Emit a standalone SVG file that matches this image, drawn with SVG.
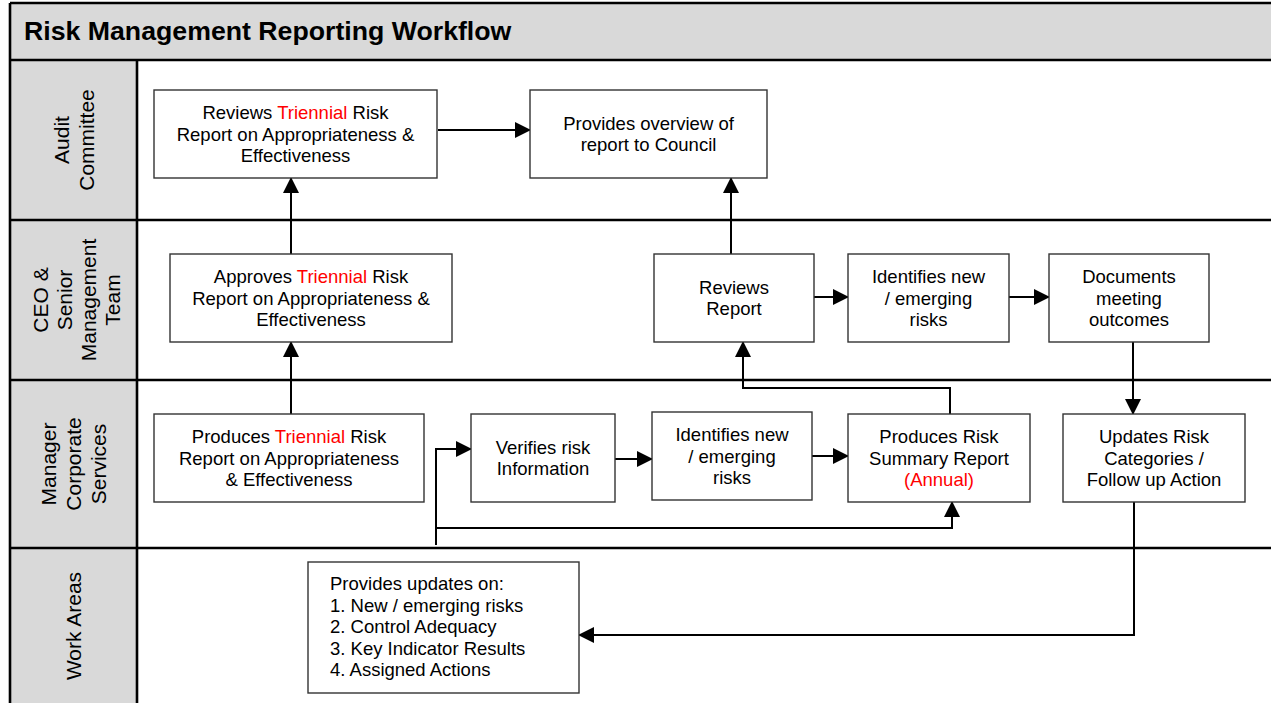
<svg xmlns="http://www.w3.org/2000/svg" width="1271" height="703" viewBox="0 0 1271 703">
  <style>
    .band { fill: #d9d9d9; }
    .frame { stroke: #000; stroke-width: 2.6; fill: none; }
    .box { fill: #fff; stroke: #333; stroke-width: 1.4; }
    .txt { font-family: "Liberation Sans", Arial, sans-serif; font-size: 18.5px; fill: #000; }
    .mid { text-anchor: middle; }
    .red { fill: #ff0000; }
    .lane { font-family: "Liberation Sans", Arial, sans-serif; font-size: 21px; fill: #000; text-anchor: middle; }
    .title { font-family: "Liberation Sans", Arial, sans-serif; font-size: 26.7px; font-weight: bold; fill: #000; }
    .conn { stroke: #000; stroke-width: 2; fill: none; }
    .arrow { marker-end: url(#head); }
  </style>
  <defs>
    <marker id="head" viewBox="0 0 16 16" refX="15" refY="8" markerWidth="16" markerHeight="16" markerUnits="userSpaceOnUse" orient="auto">
      <path d="M0,0 L16,8 L0,16 z" fill="#000"/>
    </marker>
  </defs>

  <!-- background, header band and lane label column -->
  <rect x="0" y="0" width="1271" height="703" fill="#fff"/>
  <rect class="band" x="10" y="3" width="1261" height="57"/>
  <rect class="band" x="10" y="60" width="127" height="643"/>

  <!-- pool frame and lane separators -->
  <g id="frame">
    <line class="frame" x1="10" y1="3" x2="1271" y2="3"/>
    <line class="frame" x1="10" y1="3" x2="10" y2="703"/>
    <line class="frame" x1="10" y1="60" x2="1271" y2="60"/>
    <line class="frame" x1="10" y1="220" x2="1271" y2="220"/>
    <line class="frame" x1="10" y1="380" x2="1271" y2="380"/>
    <line class="frame" x1="10" y1="548" x2="1271" y2="548"/>
    <line class="frame" x1="137" y1="60" x2="137" y2="703"/>
  </g>

  <text class="title" x="24" y="40">Risk Management Reporting Workflow</text>

  <!-- lane labels -->
  <g id="lane-audit" transform="translate(74,140) rotate(-90)">
    <text class="lane" x="0" y="-5.5">Audit</text>
    <text class="lane" x="0" y="19.5">Committee</text>
  </g>
  <g id="lane-ceo" transform="translate(76,300) rotate(-90)">
    <text class="lane" x="0" y="-28">CEO &amp;</text>
    <text class="lane" x="0" y="-4">Senior</text>
    <text class="lane" x="0" y="20">Management</text>
    <text class="lane" x="0" y="44">Team</text>
  </g>
  <g id="lane-manager" transform="translate(74,464) rotate(-90)">
    <text class="lane" x="0" y="-18">Manager</text>
    <text class="lane" x="0" y="7">Corporate</text>
    <text class="lane" x="0" y="32">Services</text>
  </g>
  <g id="lane-work" transform="translate(74,626) rotate(-90)">
    <text class="lane" x="0" y="7">Work Areas</text>
  </g>

  <!-- connectors -->
  <g id="connectors">
    <line class="conn arrow" x1="438" y1="130" x2="530" y2="130"/>
    <line class="conn arrow" x1="291" y1="254" x2="291" y2="178"/>
    <line class="conn arrow" x1="291" y1="414" x2="291" y2="342"/>
    <line class="conn arrow" x1="731" y1="254" x2="731" y2="178"/>
    <line class="conn arrow" x1="814" y1="297" x2="848" y2="297"/>
    <line class="conn arrow" x1="1009" y1="297" x2="1049" y2="297"/>
    <line class="conn arrow" x1="1133" y1="342" x2="1133" y2="414"/>
    <polyline class="conn arrow" points="1134,502 1134,635 579,635"/>
    <polyline class="conn arrow" points="950,414 950,388 743,388 743,342"/>
    <line class="conn arrow" x1="615" y1="459" x2="652" y2="459"/>
    <line class="conn arrow" x1="812" y1="456" x2="848" y2="456"/>
    <polyline class="conn arrow" points="436,545 436,449 471,449"/>
    <polyline class="conn arrow" points="436,528 952,528 952,502"/>
  </g>

  <!-- Audit Committee -->
  <g id="audit-reviews">
    <rect class="box" x="154" y="90" width="283" height="88"/>
    <text class="txt mid" x="295.5" y="119">Reviews <tspan class="red">Triennial</tspan> Risk</text>
    <text class="txt mid" x="295.5" y="140.5">Report on Appropriateness &amp;</text>
    <text class="txt mid" x="295.5" y="162">Effectiveness</text>
  </g>
  <g id="audit-overview">
    <rect class="box" x="530" y="90" width="237" height="88"/>
    <text class="txt mid" x="648.5" y="129.5">Provides overview of</text>
    <text class="txt mid" x="648.5" y="151">report to Council</text>
  </g>

  <!-- CEO & Senior Management Team -->
  <g id="ceo-approves">
    <rect class="box" x="170" y="254" width="282" height="88"/>
    <text class="txt mid" x="311" y="283">Approves <tspan class="red">Triennial</tspan> Risk</text>
    <text class="txt mid" x="311" y="304.5">Report on Appropriateness &amp;</text>
    <text class="txt mid" x="311" y="326">Effectiveness</text>
  </g>
  <g id="ceo-reviews">
    <rect class="box" x="654" y="254" width="160" height="88"/>
    <text class="txt mid" x="734" y="293.5">Reviews</text>
    <text class="txt mid" x="734" y="315">Report</text>
  </g>
  <g id="ceo-identifies">
    <rect class="box" x="848" y="254" width="161" height="88"/>
    <text class="txt mid" x="928.5" y="283">Identifies new</text>
    <text class="txt mid" x="928.5" y="304.5">/ emerging</text>
    <text class="txt mid" x="928.5" y="326">risks</text>
  </g>
  <g id="ceo-documents">
    <rect class="box" x="1049" y="254" width="160" height="88"/>
    <text class="txt mid" x="1129" y="283">Documents</text>
    <text class="txt mid" x="1129" y="304.5">meeting</text>
    <text class="txt mid" x="1129" y="326">outcomes</text>
  </g>

  <!-- Manager Corporate Services -->
  <g id="mgr-produces-triennial">
    <rect class="box" x="154" y="414" width="270" height="88"/>
    <text class="txt mid" x="289" y="443">Produces <tspan class="red">Triennial</tspan> Risk</text>
    <text class="txt mid" x="289" y="464.5">Report on Appropriateness</text>
    <text class="txt mid" x="289" y="486">&amp; Effectiveness</text>
  </g>
  <g id="mgr-verifies">
    <rect class="box" x="471" y="414" width="144" height="88"/>
    <text class="txt mid" x="543" y="453.5">Verifies risk</text>
    <text class="txt mid" x="543" y="475">Information</text>
  </g>
  <g id="mgr-identifies">
    <rect class="box" x="652" y="412" width="160" height="88"/>
    <text class="txt mid" x="732" y="441">Identifies new</text>
    <text class="txt mid" x="732" y="462.5">/ emerging</text>
    <text class="txt mid" x="732" y="484">risks</text>
  </g>
  <g id="mgr-summary">
    <rect class="box" x="848" y="414" width="182" height="88"/>
    <text class="txt mid" x="939" y="443">Produces Risk</text>
    <text class="txt mid" x="939" y="464.5">Summary Report</text>
    <text class="txt mid red" x="939" y="486">(Annual)</text>
  </g>
  <g id="mgr-updates">
    <rect class="box" x="1063" y="414" width="182" height="88"/>
    <text class="txt mid" x="1154" y="443">Updates Risk</text>
    <text class="txt mid" x="1154" y="464.5">Categories /</text>
    <text class="txt mid" x="1154" y="486">Follow up Action</text>
  </g>

  <!-- Work Areas -->
  <g id="work-updates">
    <rect class="box" x="308" y="562" width="271" height="131"/>
    <text class="txt" x="330" y="590">Provides updates on:</text>
    <text class="txt" x="330" y="611.5">1. New / emerging risks</text>
    <text class="txt" x="330" y="633">2. Control Adequacy</text>
    <text class="txt" x="330" y="654.5">3. Key Indicator Results</text>
    <text class="txt" x="330" y="676">4. Assigned Actions</text>
  </g>
</svg>
